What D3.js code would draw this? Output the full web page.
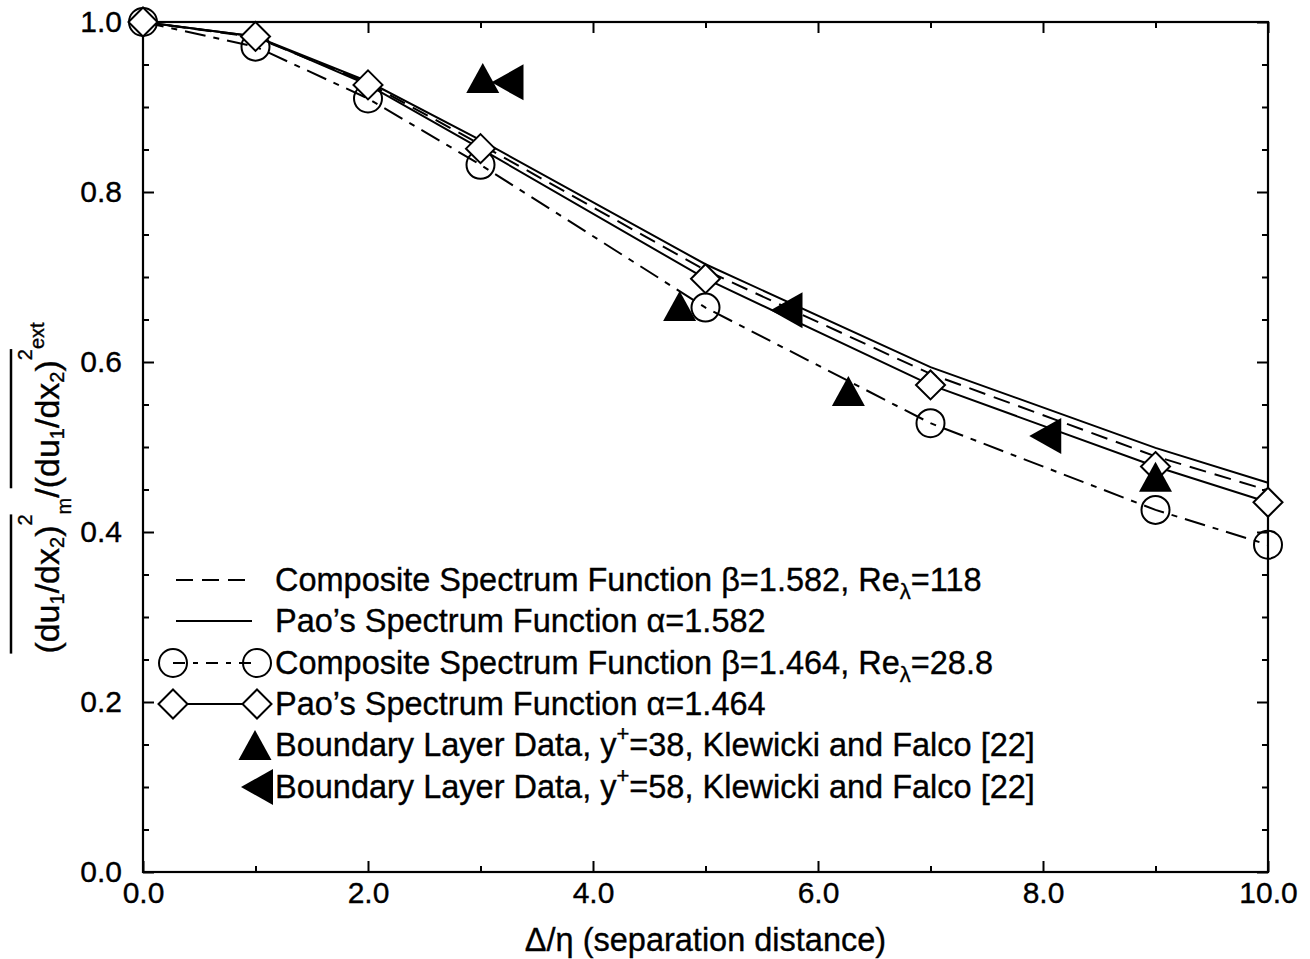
<!DOCTYPE html>
<html><head><meta charset="utf-8">
<script src="https://cdn.jsdelivr.net/npm/d3@7"></script>
<style>
body{margin:0;background:#fff}
svg{display:block}
text{font-family:"Liberation Sans",Arial,Helvetica,sans-serif;fill:#000;stroke:#000;stroke-width:0.35px}
</style>
</head><body>
<svg id="c" width="1310" height="959"></svg>
<script>
// ---------------- data ----------------
const xMarked   = [0, 1, 2, 3, 5, 7, 9, 10];
const paoA1582  = [1.0, 0.983, 0.930, 0.861, 0.715, 0.594, 0.499, 0.458];
const compB1582 = [1.0, 0.982, 0.928, 0.856, 0.708, 0.586, 0.489, 0.449];
const compB1464 = [1.0, 0.971, 0.910, 0.832, 0.664, 0.528, 0.426, 0.385];
const paoA1464  = [1.0, 0.983, 0.926, 0.851, 0.698, 0.573, 0.477, 0.435];
const bl38x = [3.02, 4.77, 6.27, 9.0];
const bl38y = [0.934, 0.666, 0.566, 0.465];
const bl58x = [3.24, 5.72, 8.02];
const bl58y = [0.929, 0.661, 0.513];
const xMajor = [0, 2, 4, 6, 8, 10];
const xMajorLabels = ["0.0", "2.0", "4.0", "6.0", "8.0", "10.0"];
const xMinor = [1, 3, 5, 7, 9];
const yMajor = [0, 0.2, 0.4, 0.6, 0.8, 1.0];
const yMajorLabels = ["0.0", "0.2", "0.4", "0.6", "0.8", "1.0"];
const yMinor = [0.05,0.1,0.15,0.25,0.3,0.35,0.45,0.5,0.55,0.65,0.7,0.75,0.85,0.9,0.95];
const legendLabels = [
  ["Composite Spectrum Function \u03B2=1.582, Re", "\u03BB", "=118"],
  ["Pao\u2019s Spectrum Function \u03B1=1.582"],
  ["Composite Spectrum Function \u03B2=1.464, Re", "\u03BB", "=28.8"],
  ["Pao\u2019s Spectrum Function \u03B1=1.464"],
  ["Boundary Layer Data, y", "+", "=38, Klewicki and Falco [22]"],
  ["Boundary Layer Data, y", "+", "=58, Klewicki and Falco [22]"]
];
const xTitle = "\u0394/\u03B7 (separation distance)";

// ---------------- layout ----------------
const svg = d3.select("#c");
const L = 143, R = 1268, T = 22, B = 872;
const x = d3.scaleLinear().domain([0, 10]).range([L, R]);
const y = d3.scaleLinear().domain([0, 1]).range([B, T]);

function styleAxis(g){ g.select(".domain").remove(); g.selectAll("line").attr("stroke","#000").attr("stroke-width",2); g.selectAll("text").style("font-size","30px").attr("fill","#000"); }
svg.append("g").attr("transform",`translate(0,${B})`)
  .call(d3.axisBottom(x).tickValues(xMajor).tickSize(-11).tickPadding(10).tickFormat((d,i)=>xMajorLabels[i]))
  .call(styleAxis);
svg.append("g").attr("transform",`translate(0,${B})`)
  .call(d3.axisBottom(x).tickValues(xMinor).tickSize(-6).tickFormat("")).call(styleAxis);
svg.append("g").attr("transform",`translate(0,${T})`)
  .call(d3.axisTop(x).tickValues(xMajor).tickSize(-11).tickFormat("")).call(styleAxis);
svg.append("g").attr("transform",`translate(0,${T})`)
  .call(d3.axisTop(x).tickValues(xMinor).tickSize(-6).tickFormat("")).call(styleAxis);
svg.append("g").attr("transform",`translate(${L},0)`)
  .call(d3.axisLeft(y).tickValues(yMajor).tickSize(-11).tickPadding(21).tickFormat((d,i)=>yMajorLabels[i]))
  .call(styleAxis);
svg.append("g").attr("transform",`translate(${L},0)`)
  .call(d3.axisLeft(y).tickValues(yMinor).tickSize(-6).tickFormat("")).call(styleAxis);
svg.append("g").attr("transform",`translate(${R},0)`)
  .call(d3.axisRight(y).tickValues(yMajor).tickSize(-11).tickFormat("")).call(styleAxis);
svg.append("g").attr("transform",`translate(${R},0)`)
  .call(d3.axisRight(y).tickValues(yMinor).tickSize(-6).tickFormat("")).call(styleAxis);

svg.append("rect").attr("x",L).attr("y",T).attr("width",R-L).attr("height",B-T)
  .attr("fill","none").attr("stroke","#000").attr("stroke-width",2.2);

// ---------------- series ----------------
const line = d3.line().x(d=>x(d[0])).y(d=>y(d[1]));
const zipS = ys => xMarked.map((v,i)=>[v, ys[i]]);
const DASH = "17,9", DASHDOT = "21,8,6,8";
function drawLine(ys, dash){
  svg.append("path").attr("d", line(zipS(ys))).attr("fill","none")
    .attr("stroke","#000").attr("stroke-width",2).attr("stroke-dasharray", dash);
}
drawLine(paoA1582, null);
drawLine(compB1582, DASH);
drawLine(compB1464, DASHDOT);
drawLine(paoA1464, null);

function circleAt(g, cx, cy){ g.append("circle").attr("cx",cx).attr("cy",cy).attr("r",14)
  .attr("fill","none").attr("stroke","#000").attr("stroke-width",2); }
function diamondAt(g, cx, cy){ const h=14.5; g.append("path")
  .attr("d",`M${cx},${cy-h}L${cx+h},${cy}L${cx},${cy+h}L${cx-h},${cy}Z`)
  .attr("fill","#fff").attr("stroke","#000").attr("stroke-width",2); }
function triUpAt(g, cx, cy){ g.append("path")
  .attr("d",`M${cx},${cy-15}L${cx+16.5},${cy+15}L${cx-16.5},${cy+15}Z`).attr("fill","#000"); }
function triLeftAt(g, cx, cy){ g.append("path")
  .attr("d",`M${cx-16},${cy}L${cx+16},${cy-18}L${cx+16},${cy+18}Z`).attr("fill","#000"); }

const marks = svg.append("g");
xMarked.forEach((v,i)=>circleAt(marks, x(v), y(compB1464[i])));
xMarked.forEach((v,i)=>diamondAt(marks, x(v), y(paoA1464[i])));
bl38x.forEach((v,i)=>triUpAt(marks, x(v), y(bl38y[i])));
bl58x.forEach((v,i)=>triLeftAt(marks, x(v), y(bl58y[i])));

// ---------------- legend ----------------
const lg = svg.append("g");
const rowBase = [591, 632, 674, 715, 756, 798];
const symL = 173, symR = 257, textX = 275, off = 11;
legendLabels.forEach((parts,i)=>{
  const cy = rowBase[i]-off;
  if(i===0 || i===1){
    lg.append("line").attr("x1",176).attr("x2",252).attr("y1",cy).attr("y2",cy)
      .attr("stroke","#000").attr("stroke-width",2).attr("stroke-dasharray", i===0?DASH:null);
  } else if(i===2){
    lg.append("line").attr("x1",symL).attr("x2",symR).attr("y1",cy).attr("y2",cy)
      .attr("stroke","#000").attr("stroke-width",2).attr("stroke-dasharray","12,8,5,8");
    circleAt(lg,symL,cy); circleAt(lg,symR,cy);
  } else if(i===3){
    lg.append("line").attr("x1",symL).attr("x2",symR).attr("y1",cy).attr("y2",cy)
      .attr("stroke","#000").attr("stroke-width",2);
    diamondAt(lg,symL,cy); diamondAt(lg,symR,cy);
  } else if(i===4){ triUpAt(lg,symR-2,cy); }
  else { triLeftAt(lg,symR,cy); }
  const t = lg.append("text").attr("x",textX).attr("y",rowBase[i]).style("font-size","32.5px");
  t.append("tspan").text(parts[0]);
  if(parts.length>1){
    const isSub = parts[1]==="\u03BB";
    t.append("tspan").attr("dy", isSub? 8 : -15).style("font-size","22px").text(parts[1]);
    t.append("tspan").attr("dy", isSub? -8 : 15).text(parts[2]);
  }
});

// ---------------- axis titles ----------------
svg.append("text").attr("x",(L+R)/2).attr("y",951).attr("text-anchor","middle")
  .style("font-size","32.5px").text(xTitle);

const yl = svg.append("g").attr("transform","translate(59,0) rotate(-90)");
const pieces = [
  ["(du",0,34],["1",5,20],["/dx",0,34],["2",5,20],[")",0,34],["2",-27,20],
  ["m",12,20],["/",0,34],
  ["(du",0,34],["1",5,20],["/dx",0,34],["2",5,20],[")",0,34],["2",-27,20],["ext",-15,20]
];
let pos = 0; const spans = [];
pieces.forEach(p=>{
  const t = yl.append("text").attr("x",pos).attr("y",p[1]).style("font-size",p[2]+"px").text(p[0]);
  const w = t.node().getComputedTextLength();
  spans.push([pos,pos+w]); pos += w;
});
const total = pos, centerScreen = 488;
const sh = -centerScreen - total/2;
yl.selectAll("text").attr("x", function(){ return +d3.select(this).attr("x") + sh; });
[[0,5],[8,13]].forEach(([a,b])=>{
  yl.append("line").attr("x1",spans[a][0]+sh).attr("x2",spans[b][1]+sh)
    .attr("y1",-48).attr("y2",-48).attr("stroke","#000").attr("stroke-width",2.5);
});
</script>
</body></html>
